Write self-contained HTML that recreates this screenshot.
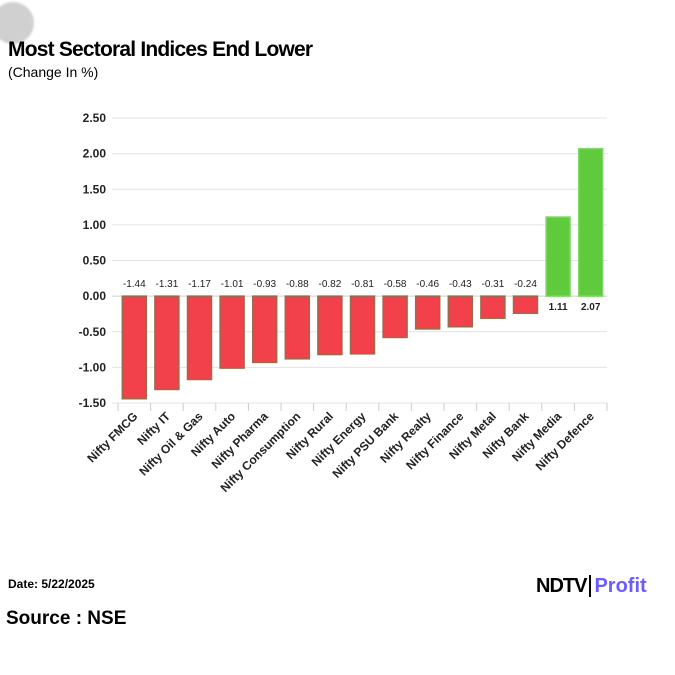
<!DOCTYPE html>
<html><head><meta charset="utf-8"><style>
body{margin:0;width:675px;height:675px;background:#fff;font-family:"Liberation Sans",Arial,sans-serif;position:relative;overflow:hidden}
.abs{position:absolute}
</style></head><body>
<div class="abs" style="left:-8px;top:2px;width:42px;height:42px;border-radius:50%;background:#d0d0d0;filter:blur(1px)"></div>
<div class="abs" style="left:8px;top:38px;font-size:21px;font-weight:bold;letter-spacing:-0.8px;color:#000">Most Sectoral Indices End Lower</div>
<div class="abs" style="left:8px;top:64px;font-size:14px;color:#000">(Change In %)</div>
<svg class="abs" style="left:0;top:0" width="675" height="675" id="chart"></svg>
<div class="abs" style="left:8px;top:577px;font-size:12px;font-weight:bold">Date: 5/22/2025</div>
<div class="abs" style="left:536px;top:575px;font-size:20px;font-weight:bold;white-space:nowrap"><span style="letter-spacing:-1px">NDTV</span><span style="border-left:2px solid #000;margin-left:3px;padding-left:3px;color:#6a5cff">Profit</span></div>
<div class="abs" style="left:6px;top:608px;font-size:19px;font-weight:bold">Source : NSE</div>
<script>
const categories=["Nifty FMCG","Nifty IT","Nifty Oil & Gas","Nifty Auto","Nifty Pharma","Nifty Consumption","Nifty Rural","Nifty Energy","Nifty PSU Bank","Nifty Realty","Nifty Finance","Nifty Metal","Nifty Bank","Nifty Media","Nifty Defence"];
const values=[-1.44,-1.31,-1.17,-1.01,-0.93,-0.88,-0.82,-0.81,-0.58,-0.46,-0.43,-0.31,-0.24,1.11,2.07];
const ticks=[2.5,2.0,1.5,1.0,0.5,0.0,-0.5,-1.0,-1.5];
const NS="http://www.w3.org/2000/svg";
const svg=document.getElementById('chart');
const x0=118,x1=607,yTop=118,yBot=403,vMax=2.5,vMin=-1.5;
const y=v=>yTop+(vMax-v)/(vMax-vMin)*(yBot-yTop);
const band=(x1-x0)/categories.length;
const xc=i=>x0+band*(i+0.5);
function mk(t,a){const e=document.createElementNS(NS,t);for(const k in a)e.setAttribute(k,a[k]);svg.appendChild(e);return e;}
ticks.forEach(t=>{
 const g=mk('line',{x1:112,x2:x1,y1:y(t),y2:y(t),stroke:t===0?'#cfcfcf':'#e3e3e3','stroke-width':1});
 
 
 const l=mk('text',{x:106,y:y(t)+4,'text-anchor':'end','font-size':12,'font-weight':'bold',fill:'#222'});
 l.textContent=t.toFixed(2);
 
 
});
for(let i=0;i<=categories.length;i++){
 const tk=mk('line',{x1:x0+band*i,x2:x0+band*i,y1:yBot,y2:yBot+8,stroke:'#ccc'});
 
 
}
values.forEach((v,i)=>{
 const w=24,top=Math.min(y(v),y(0)),h=Math.abs(y(v)-y(0));
 const r=mk('rect',{x:xc(i)-w/2,y:top,width:w,height:h,fill:v<0?'#f2414b':'#5fcb3c',stroke:v<0?'#9a6a4a':'#7fd76a','stroke-width':1.5});
 
 
 const t=mk('text',{x:xc(i),y:v<0?y(0)-9:y(0)+14,'text-anchor':'middle','font-size':10,'font-weight':v<0?'normal':'bold',fill:'#222'});
 t.textContent=v.toFixed(2);
 
 
 const c=mk('text',{x:0,y:0,'text-anchor':'end','font-size':12,'font-weight':'bold',fill:'#222',transform:`translate(${xc(i)+4},${yBot+14}) rotate(-45)`});
 c.textContent=categories[i];
 
 
});
</script>
</body></html>
